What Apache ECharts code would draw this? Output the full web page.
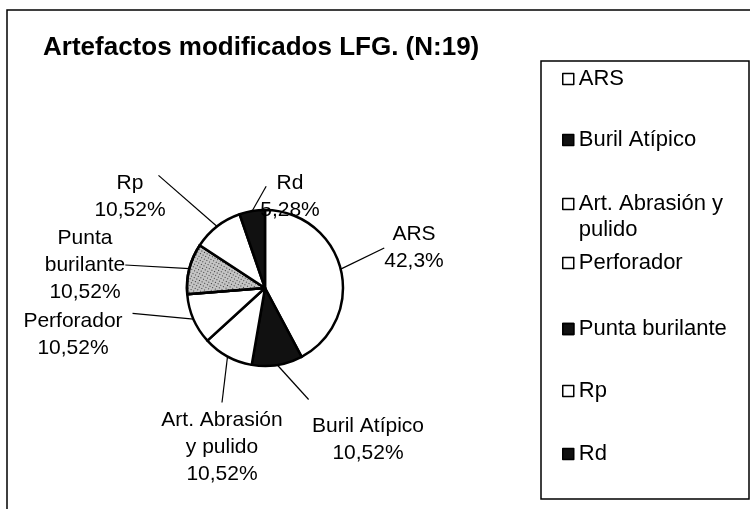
<!DOCTYPE html>
<html>
<head>
<meta charset="utf-8" />
<title>Artefactos modificados LFG.</title>
<script src="https://cdn.jsdelivr.net/npm/echarts@6/dist/echarts.min.js"></script>
</head>
<body style="margin:0;background:#fff">
<div id="main" style="width:750px;height:509px;"></div>
<script>
// categorias y porcentajes
var categories = ["ARS", "Buril Atípico", "Art. Abrasión y pulido", "Perforador", "Punta burilante", "Rp", "Rd"];
var percents = [42.3, 10.52, 10.52, 10.52, 10.52, 10.52, 5.28];
// textos tal como aparecen en las etiquetas y la leyenda
var labelNames = ["ARS", "Buril Atípico", "Art. Abrasión\ny pulido", "Perforador", "Punta\nburilante", "Rp", "Rd"];
var legendNames = ["ARS", "Buril Atípico", "Art. Abrasión y\npulido", "Perforador", "Punta burilante", "Rp", "Rd"];

var FONT = "'Liberation Sans', Arial, sans-serif";
var sliceColors = ["#fff", "#111", "#fff", "#fff", "#c4c4c4", "#fff", "#111"];
var legendColors = ["#fff", "#111", "#fff", "#fff", "#111", "#fff", "#111"];
// centro de cada bloque de etiqueta
var labelPos = [[414, 248], [368, 440], [222, 447], [73, 335], [85, 265], [130, 197], [290, 197]];
// donde termina cada linea guia, como fraccion del bloque de texto
var lineEnd = [[0, 0.5], [-0.03, -0.25], [0.5, -0.05], [1.1, 0.1], [1, 0.5], [0.9, 0.1], [0.1, 0.3]];
// centro vertical (primera linea) de cada texto de la leyenda
var legendTextY = [77, 138, 202, 261, 327, 389, 452];

var chart = echarts.init(document.getElementById("main"));

var pieData = categories.map(function (name, i) {
  var item = { name: name, value: percents[i], itemStyle: { color: sliceColors[i] } };
  if (i === 4) {
    item.itemStyle.decal = {
      symbol: "rect",
      symbolSize: 1,
      color: "rgba(20,20,20,0.8)",
      dashArrayX: [1, 2],
      dashArrayY: [1, 2],
      rotation: 0.5
    };
  }
  return item;
});

var legends = categories.map(function (name, i) {
  var twoLine = legendNames[i].indexOf("\n") >= 0;
  return {
    orient: "vertical",
    left: 562,
    top: twoLine ? legendTextY[i] - 37 : legendTextY[i] - 10,
    padding: 0,
    itemWidth: 11,
    itemHeight: 11,
    icon: "rect",
    selectedMode: false,
    formatter: function () { return twoLine ? "\n" + legendNames[i] : legendNames[i]; },
    textStyle: {
      fontFamily: FONT,
      fontSize: 22,
      color: "#000",
      lineHeight: twoLine ? 26 : 24,
      backgroundColor: "rgba(0,0,0,0)"
    },
    data: [{
      name: name,
      itemStyle: { color: legendColors[i], borderColor: "#000", borderWidth: 1.5 }
    }]
  };
});

var option = {
  backgroundColor: "#fff",
  animation: false,
  title: {
    text: "Artefactos modificados LFG. (N:19)",
    left: 43,
    top: 35,
    padding: 0,
    textStyle: { fontFamily: FONT, fontSize: 26, fontWeight: "bold", color: "#000", lineHeight: 26 }
  },
  legend: legends,
  graphic: [
    {
      type: "rect", silent: true,
      shape: { x: 7, y: 10, width: 770, height: 530 },
      style: { fill: "none", stroke: "#000", lineWidth: 1.5 }
    },
    {
      type: "rect", silent: true,
      shape: { x: 541, y: 61, width: 208, height: 438 },
      style: { fill: "none", stroke: "#000", lineWidth: 1.5 }
    }
  ],
  series: [{
    type: "pie",
    center: [265, 288],
    radius: 78,
    startAngle: 90,
    clockwise: true,
    avoidLabelOverlap: false,
    itemStyle: { borderColor: "#000", borderWidth: 2.5 },
    emphasis: { disabled: true },
    label: {
      show: true,
      position: "outside",
      fontFamily: FONT,
      fontSize: 21,
      lineHeight: 27,
      color: "#000",
      formatter: function (p) {
        return labelNames[p.dataIndex] + "\n" + String(p.value).replace(".", ",") + "%";
      }
    },
    labelLine: { show: true, length: 10, length2: 0, lineStyle: { color: "#000", width: 1.2 } },
    labelLayout: function (p) {
      var i = p.dataIndex;
      var cx = labelPos[i][0], cy = labelPos[i][1];
      var w = p.labelRect.width, h = p.labelRect.height;
      var end = [cx - w / 2 + lineEnd[i][0] * w, cy - h / 2 + lineEnd[i][1] * h];
      return {
        x: cx, y: cy, align: "center", verticalAlign: "middle",
        labelLinePoints: [p.labelLinePoints[0], end, end]
      };
    },
    data: pieData
  }]
};

chart.setOption(option);
</script>
</body>
</html>
